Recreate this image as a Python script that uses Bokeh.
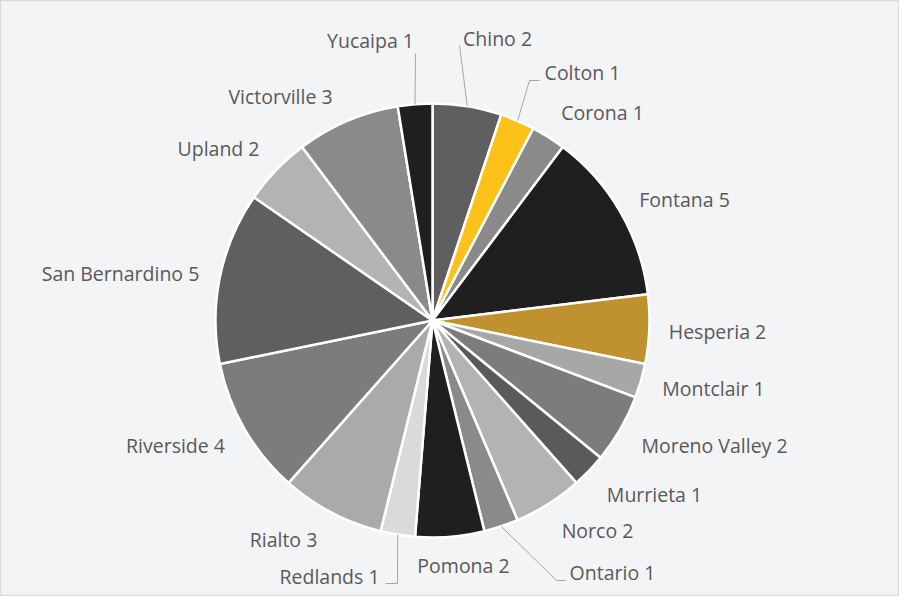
import numpy as np
from bokeh.plotting import figure
from bokeh.models import Range1d, ColumnDataSource
from bokeh.core.properties import value
from bokeh.embed import file_html
from bokeh.resources import INLINE

# ---- data ----
cities = ["Chino", "Colton", "Corona", "Fontana", "Hesperia", "Montclair",
          "Moreno Valley", "Murrieta", "Norco", "Ontario", "Pomona", "Redlands",
          "Rialto", "Riverside", "San Bernardino", "Upland", "Victorville", "Yucaipa"]
counts = [2, 1, 1, 5, 2, 1, 2, 1, 2, 1, 2, 1, 3, 4, 5, 2, 3, 1]

# ---- styles ----
colors = ["#5f5f5f", "#fcc21a", "#8a8a8a", "#1f1f1f", "#bf912f", "#a6a8a7",
          "#7c7c7c", "#5a5a5a", "#b3b3b3", "#8a8a8a", "#1f1f1f", "#dadada",
          "#a9aaa9", "#7c7c7b", "#5f5f5f", "#b3b3b3", "#8a8a8a", "#1f1f1f"]

# label layout (page pixel centres)
label_px = [505, 590, 610, 692, 725, 721, 722, 662, 605, 620, 471, 337, 291, 183, 128, 226, 288, 378]
label_py = [46, 80, 120, 207, 339, 396, 453, 502, 538, 580, 573, 584, 547, 453, 281, 156, 104, 48]
# leader line bend/end points (page pixels)
leaders = {
    "Chino": [(467, 53)],
    "Colton": [(537, 88), (547, 88)],
    "Yucaipa": [(423, 61)],
    "Redlands": [(405, 591), (393, 591)],
    "Ontario": [(564, 588), (573, 588)],
}

W, H = 899, 596
def X(px): return px - 8
def Y(py): return 604 - py

cx, cy, R = X(440), Y(328), 217
total = sum(counts)
cum = np.cumsum([0] + counts)
start = np.pi / 2 - 2 * np.pi * cum[:-1] / total
end = np.pi / 2 - 2 * np.pi * cum[1:] / total
mid = (start + end) / 2

p = figure(width=W, height=H, x_range=Range1d(0, W), y_range=Range1d(0, H),
           output_backend="svg", toolbar_location=None, min_border=0,
           x_axis_type=None, y_axis_type=None,
           background_fill_color="#f3f4f6", border_fill_color="#f3f4f6",
           outline_line_color="#d9d9d9", outline_line_width=1.5)
p.grid.visible = False

src = ColumnDataSource(dict(start=start, end=end, color=colors, city=cities, n=counts))
p.wedge(x=cx, y=cy, radius=R, start_angle="start", end_angle="end",
        direction="clock", fill_color="color", line_color="white",
        line_width=2.5, source=src)

# leader lines
xs, ys = [], []
for i, c in enumerate(cities):
    if c in leaders:
        ax = cx + R * np.cos(mid[i])
        ay = cy + R * np.sin(mid[i])
        xs.append([ax] + [X(q[0]) for q in leaders[c]])
        ys.append([ay] + [Y(q[1]) for q in leaders[c]])
p.multi_line(xs, ys, line_color="#a6a6a6", line_width=1)

labels = [f"{c} {n}" for c, n in zip(cities, counts)]
lsrc = ColumnDataSource(dict(x=[X(v) for v in label_px], y=[Y(v) for v in label_py], t=labels))
p.text(x="x", y="y", text="t", source=lsrc, text_align="center",
       text_baseline="middle", text_font=value("Open Sans"), text_font_size="19.5px",
       text_color="#595959")

open("out.html", "w").write(file_html(p, INLINE))
